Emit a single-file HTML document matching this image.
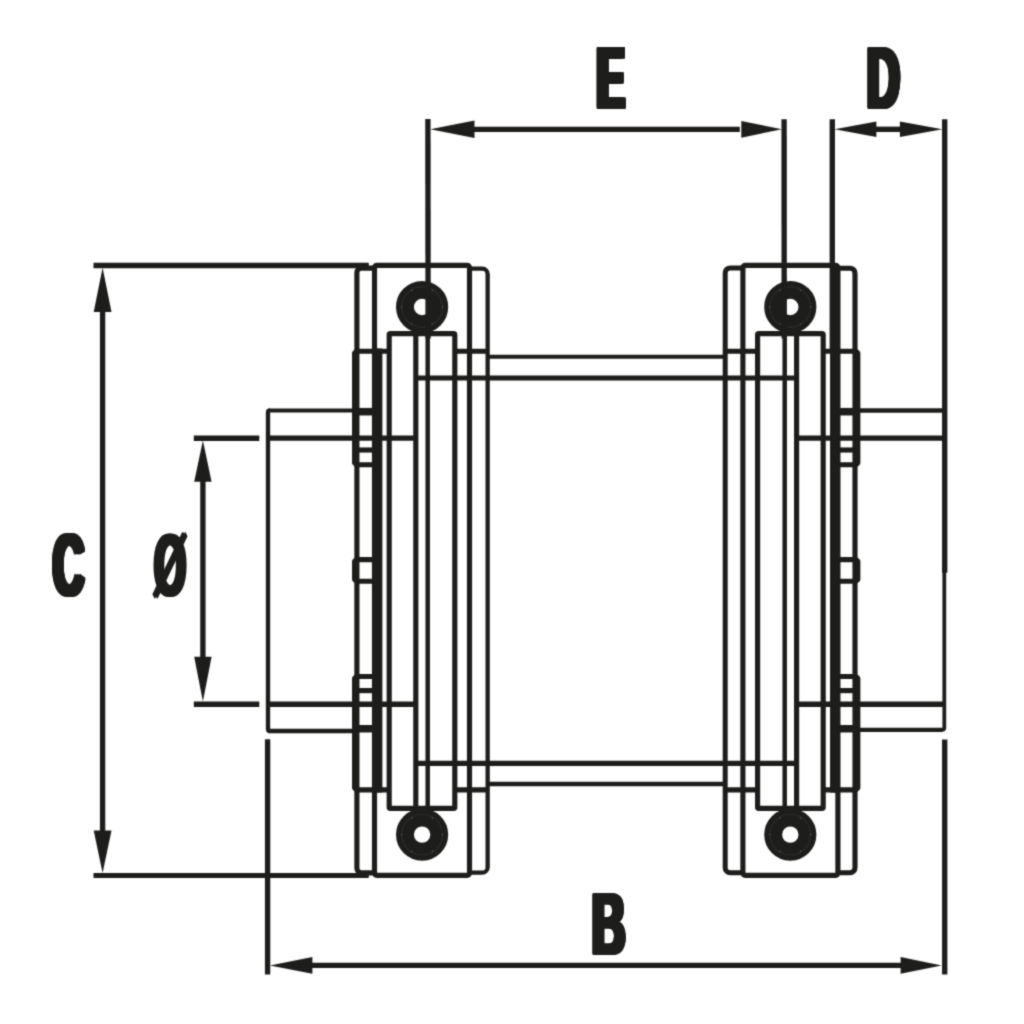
<!DOCTYPE html>
<html lang="en">
<head>
<meta charset="utf-8">
<title>Dimension drawing</title>
<style>
html,body{margin:0;padding:0;background:#fff;}
body{width:1024px;height:1024px;position:relative;overflow:hidden;font-family:"Liberation Sans",sans-serif;}
svg{position:absolute;left:0;top:0;display:block;}
#sheet{position:absolute;left:0;top:0;width:1024px;height:1024px;background:#fff;filter:url(#soft);}
.lbl{position:absolute;font-family:"Liberation Sans",sans-serif;font-weight:700;color:#1d1d1b;line-height:1;white-space:nowrap;transform-origin:0 0;margin:0;padding:0;}
.lbl.dia{font-family:"DejaVu Sans","Liberation Sans",sans-serif;}
</style>
</head>
<body>
<div id="sheet">
<svg width="1024" height="1024" viewBox="0 0 1024 1024">
<defs><filter id="soft" x="0" y="0" width="100%" height="100%" color-interpolation-filters="sRGB"><feConvolveMatrix order="3" kernelMatrix="0.0324 0.1152 0.0324 0.1152 0.4096 0.1152 0.0324 0.1152 0.0324" divisor="1" edgeMode="duplicate" preserveAlpha="false"/></filter></defs>
<g fill="none" stroke="#1d1d1b" stroke-linecap="butt">
<path d="M374.50,268.1 H361.40 A4.5,4.5 0 0 0 356.90,272.6 V868.3 A4.5,4.5 0 0 0 361.40,872.8 H374.50" stroke-width="5.15" />
<path d="M469.50,268.7 H482.15 A5.5,5.5 0 0 1 487.65,274.2 V867.2 A5.5,5.5 0 0 1 482.15,872.7 H469.50" stroke-width="4.3" />
<rect x="374.50" y="265.4" width="95.00" height="609.90" rx="2.2" ry="2.2" stroke-width="5.15"/>
<rect x="389.20" y="333.6" width="65.60" height="474.80" rx="1.2" ry="1.2" stroke-width="5.15"/>
<line x1="415.80" y1="333.60" x2="415.80" y2="808.40" stroke-width="5.15"/>
<line x1="427.70" y1="333.60" x2="427.70" y2="808.40" stroke-width="4.5"/>
<line x1="379.80" y1="348.62" x2="379.80" y2="792.38" stroke-width="5.15"/>
<line x1="377.15" y1="348.62" x2="377.15" y2="792.38" stroke-width="3"/>
<line x1="454.80" y1="351.20" x2="487.50" y2="351.20" stroke-width="5.15"/>
<line x1="454.80" y1="789.80" x2="487.50" y2="789.80" stroke-width="5.15"/>
<path d="M389.20,351.2 H356.40 L354.60,353.0 V462.9 L356.40,464.7 H374.50" stroke-width="5.15" stroke-linejoin="round"/>
<path d="M374.50,559.6 H356.40 L354.60,561.4 V579.4000000000001 L356.40,581.2 H374.50" stroke-width="5.15" stroke-linejoin="round"/>
<path d="M374.50,676.5 H356.40 L354.60,678.3 V788.0 L356.40,789.8 H389.20" stroke-width="5.15" stroke-linejoin="round"/>
<line x1="356.90" y1="450.00" x2="374.50" y2="450.00" stroke-width="5.15"/>
<line x1="356.90" y1="690.60" x2="374.50" y2="690.60" stroke-width="5.15"/>
<line x1="356.90" y1="412.90" x2="374.50" y2="412.90" stroke-width="5.15"/>
<line x1="356.90" y1="727.60" x2="374.50" y2="727.60" stroke-width="5.15"/>
<line x1="356.90" y1="438.10" x2="415.80" y2="438.10" stroke-width="5.35"/>
<line x1="356.90" y1="704.20" x2="415.80" y2="704.20" stroke-width="5.35"/>
<line x1="356.90" y1="410.50" x2="374.50" y2="410.50" stroke-width="5.15"/>
<line x1="356.90" y1="729.90" x2="374.50" y2="729.90" stroke-width="5.15"/>
<path d="M837.90,268.2 H850.00 A5.0,5.0 0 0 1 855.00,273.2 V867.7 A5.0,5.0 0 0 1 850.00,872.7 H837.90" stroke-width="5.15" />
<path d="M742.90,267.9 H730.20 A5.0,5.0 0 0 0 725.20,272.9 V867.8 A5.0,5.0 0 0 0 730.20,872.8 H742.90" stroke-width="5.0" />
<rect x="742.90" y="265.4" width="95.00" height="609.90" rx="2.2" ry="2.2" stroke-width="5.15"/>
<rect x="757.60" y="333.6" width="65.60" height="474.80" rx="1.2" ry="1.2" stroke-width="5.15"/>
<line x1="796.60" y1="333.60" x2="796.60" y2="808.40" stroke-width="5.15"/>
<line x1="784.70" y1="333.60" x2="784.70" y2="808.40" stroke-width="4.5"/>
<line x1="832.60" y1="348.62" x2="832.60" y2="792.38" stroke-width="5.15"/>
<line x1="835.25" y1="348.62" x2="835.25" y2="792.38" stroke-width="3"/>
<line x1="757.60" y1="351.20" x2="724.90" y2="351.20" stroke-width="5.15"/>
<line x1="757.60" y1="789.80" x2="724.90" y2="789.80" stroke-width="5.15"/>
<path d="M823.20,351.2 H856.00 L857.80,353.0 V462.9 L856.00,464.7 H837.90" stroke-width="5.15" stroke-linejoin="round"/>
<path d="M837.90,559.6 H856.00 L857.80,561.4 V579.4000000000001 L856.00,581.2 H837.90" stroke-width="5.15" stroke-linejoin="round"/>
<path d="M837.90,676.5 H856.00 L857.80,678.3 V788.0 L856.00,789.8 H823.20" stroke-width="5.15" stroke-linejoin="round"/>
<line x1="855.50" y1="450.00" x2="837.90" y2="450.00" stroke-width="5.15"/>
<line x1="855.50" y1="690.60" x2="837.90" y2="690.60" stroke-width="5.15"/>
<line x1="855.50" y1="412.90" x2="837.90" y2="412.90" stroke-width="5.15"/>
<line x1="855.50" y1="727.60" x2="837.90" y2="727.60" stroke-width="5.15"/>
<line x1="855.50" y1="438.10" x2="796.60" y2="438.10" stroke-width="5.35"/>
<line x1="855.50" y1="704.20" x2="796.60" y2="704.20" stroke-width="5.35"/>
<line x1="855.50" y1="410.50" x2="837.90" y2="410.50" stroke-width="5.15"/>
<line x1="855.50" y1="729.90" x2="837.90" y2="729.90" stroke-width="5.15"/>
<line x1="487.50" y1="356.70" x2="724.90" y2="356.70" stroke-width="3.9"/>
<line x1="487.50" y1="784.10" x2="724.90" y2="784.10" stroke-width="4.5"/>
<line x1="415.80" y1="378.00" x2="796.60" y2="378.00" stroke-width="4.95"/>
<line x1="415.80" y1="763.40" x2="796.60" y2="763.40" stroke-width="5.1"/>
<line x1="269.00" y1="410.50" x2="356.90" y2="410.50" stroke-width="4.1"/>
<line x1="269.00" y1="731.00" x2="356.90" y2="731.00" stroke-width="4.4"/>
<path d="M270.0,410.5 Q268.0,410.5 268.0,412.5 V729.0 Q268.0,731.0 270.0,731.0" stroke-width="4.35" />
<line x1="268.00" y1="438.10" x2="356.90" y2="438.10" stroke-width="5.35"/>
<line x1="268.00" y1="704.20" x2="356.90" y2="704.20" stroke-width="5.35"/>
<line x1="855.50" y1="410.50" x2="944.70" y2="410.50" stroke-width="4.35"/>
<path d="M941.8,729.9 Q944.3,729.9 944.3,727.4 V571" stroke-width="3.8" />
<line x1="855.50" y1="729.90" x2="942.30" y2="729.90" stroke-width="4.35"/>
<line x1="855.50" y1="438.10" x2="944.70" y2="438.10" stroke-width="5.35"/>
<line x1="855.50" y1="704.20" x2="944.70" y2="704.20" stroke-width="5.35"/>
<circle cx="422.1" cy="307.0" r="17.15" stroke-width="17.9"/>
<circle cx="422.1" cy="307.0" r="20.4" stroke="#fff" stroke-opacity="0.07" stroke-width="1.1"/>
<circle cx="442.70" cy="307.00" r="0.7" fill="#fff" fill-opacity="0.28" stroke="none"/>
<circle cx="432.40" cy="323.59" r="0.7" fill="#fff" fill-opacity="0.28" stroke="none"/>
<circle cx="411.80" cy="323.59" r="0.7" fill="#fff" fill-opacity="0.28" stroke="none"/>
<circle cx="401.50" cy="307.00" r="0.7" fill="#fff" fill-opacity="0.28" stroke="none"/>
<circle cx="411.80" cy="290.41" r="0.7" fill="#fff" fill-opacity="0.28" stroke="none"/>
<circle cx="432.40" cy="290.41" r="0.7" fill="#fff" fill-opacity="0.28" stroke="none"/>
<circle cx="790.3" cy="307.0" r="17.15" stroke-width="17.9"/>
<circle cx="790.3" cy="307.0" r="20.4" stroke="#fff" stroke-opacity="0.07" stroke-width="1.1"/>
<circle cx="810.90" cy="307.00" r="0.7" fill="#fff" fill-opacity="0.28" stroke="none"/>
<circle cx="800.60" cy="323.59" r="0.7" fill="#fff" fill-opacity="0.28" stroke="none"/>
<circle cx="780.00" cy="323.59" r="0.7" fill="#fff" fill-opacity="0.28" stroke="none"/>
<circle cx="769.70" cy="307.00" r="0.7" fill="#fff" fill-opacity="0.28" stroke="none"/>
<circle cx="780.00" cy="290.41" r="0.7" fill="#fff" fill-opacity="0.28" stroke="none"/>
<circle cx="800.60" cy="290.41" r="0.7" fill="#fff" fill-opacity="0.28" stroke="none"/>
<circle cx="422.1" cy="834.6" r="17.15" stroke-width="17.9"/>
<circle cx="422.1" cy="834.6" r="20.4" stroke="#fff" stroke-opacity="0.07" stroke-width="1.1"/>
<circle cx="442.70" cy="834.60" r="0.7" fill="#fff" fill-opacity="0.28" stroke="none"/>
<circle cx="432.40" cy="851.19" r="0.7" fill="#fff" fill-opacity="0.28" stroke="none"/>
<circle cx="411.80" cy="851.19" r="0.7" fill="#fff" fill-opacity="0.28" stroke="none"/>
<circle cx="401.50" cy="834.60" r="0.7" fill="#fff" fill-opacity="0.28" stroke="none"/>
<circle cx="411.80" cy="818.01" r="0.7" fill="#fff" fill-opacity="0.28" stroke="none"/>
<circle cx="432.40" cy="818.01" r="0.7" fill="#fff" fill-opacity="0.28" stroke="none"/>
<circle cx="790.3" cy="834.6" r="17.15" stroke-width="17.9"/>
<circle cx="790.3" cy="834.6" r="20.4" stroke="#fff" stroke-opacity="0.07" stroke-width="1.1"/>
<circle cx="810.90" cy="834.60" r="0.7" fill="#fff" fill-opacity="0.28" stroke="none"/>
<circle cx="800.60" cy="851.19" r="0.7" fill="#fff" fill-opacity="0.28" stroke="none"/>
<circle cx="780.00" cy="851.19" r="0.7" fill="#fff" fill-opacity="0.28" stroke="none"/>
<circle cx="769.70" cy="834.60" r="0.7" fill="#fff" fill-opacity="0.28" stroke="none"/>
<circle cx="780.00" cy="818.01" r="0.7" fill="#fff" fill-opacity="0.28" stroke="none"/>
<circle cx="800.60" cy="818.01" r="0.7" fill="#fff" fill-opacity="0.28" stroke="none"/>
<line x1="427.90" y1="119.10" x2="428.10" y2="338.60" stroke-width="5.35"/>
<line x1="784.10" y1="119.20" x2="784.20" y2="338.60" stroke-width="5.35"/>
<line x1="470.00" y1="129.30" x2="739.80" y2="129.30" stroke-width="5.35"/>
<polygon points="430.30,129.30 474.50,120.60 474.50,138.00" fill="#1d1d1b" stroke="none"/>
<polygon points="781.80,129.30 741.30,120.90 741.30,137.70" fill="#1d1d1b" stroke="none"/>
<line x1="832.30" y1="119.20" x2="832.30" y2="351.20" stroke-width="5.35"/>
<line x1="834.90" y1="265.40" x2="834.90" y2="351.20" stroke-width="3"/>
<line x1="944.70" y1="119.20" x2="944.70" y2="572.80" stroke-width="5.35"/>
<line x1="872.00" y1="129.30" x2="903.00" y2="129.30" stroke-width="5.35"/>
<polygon points="834.60,129.30 876.40,121.50 876.40,137.10" fill="#1d1d1b" stroke="none"/>
<polygon points="942.30,129.30 899.90,121.50 899.90,137.10" fill="#1d1d1b" stroke="none"/>
<line x1="93.50" y1="265.50" x2="368.80" y2="265.50" stroke-width="5.35"/>
<line x1="93.50" y1="875.50" x2="368.80" y2="875.50" stroke-width="5.1"/>
<line x1="102.60" y1="305.00" x2="102.60" y2="835.00" stroke-width="5.35"/>
<polygon points="102.60,267.70 93.70,312.10 111.50,312.10" fill="#1d1d1b" stroke="none"/>
<polygon points="102.60,873.10 93.70,830.60 111.50,830.60" fill="#1d1d1b" stroke="none"/>
<line x1="193.80" y1="438.20" x2="259.30" y2="438.20" stroke-width="5.35"/>
<line x1="193.80" y1="704.20" x2="259.30" y2="704.20" stroke-width="5.35"/>
<line x1="202.90" y1="475.00" x2="202.90" y2="662.00" stroke-width="5.35"/>
<polygon points="202.90,440.50 194.20,481.80 211.60,481.80" fill="#1d1d1b" stroke="none"/>
<polygon points="202.90,701.60 194.20,656.70 211.60,656.70" fill="#1d1d1b" stroke="none"/>
<line x1="267.60" y1="739.30" x2="267.60" y2="974.50" stroke-width="5.35"/>
<line x1="944.70" y1="739.50" x2="944.70" y2="974.50" stroke-width="5.35"/>
<line x1="308.00" y1="965.40" x2="905.00" y2="965.40" stroke-width="5.35"/>
<polygon points="269.90,965.40 312.40,957.00 312.40,973.80" fill="#1d1d1b" stroke="none"/>
<polygon points="941.60,965.40 900.60,957.00 900.60,973.80" fill="#1d1d1b" stroke="none"/>
</g>
</svg>
<div class="lbl" style="left:597.05px;top:34.59px;font-size:86.3px;transform:scaleX(0.4752);text-shadow:6.10px 0.96px 0 #1d1d1b,-6.10px 0.96px 0 #1d1d1b,6.10px -0.96px 0 #1d1d1b,-6.10px -0.96px 0 #1d1d1b,6.10px 0.00px 0 #1d1d1b,-6.10px 0.00px 0 #1d1d1b,0.00px 0.96px 0 #1d1d1b,0.00px -0.96px 0 #1d1d1b,3.05px 0.96px 0 #1d1d1b,-3.05px 0.96px 0 #1d1d1b,3.05px -0.96px 0 #1d1d1b,-3.05px -0.96px 0 #1d1d1b">E</div>
<div class="lbl" style="left:866.74px;top:34.59px;font-size:86.3px;transform:scaleX(0.5263);text-shadow:4.90px 0.96px 0 #1d1d1b,-4.90px 0.96px 0 #1d1d1b,4.90px -0.96px 0 #1d1d1b,-4.90px -0.96px 0 #1d1d1b,4.90px 0.00px 0 #1d1d1b,-4.90px 0.00px 0 #1d1d1b,0.00px 0.96px 0 #1d1d1b,0.00px -0.96px 0 #1d1d1b,2.45px 0.96px 0 #1d1d1b,-2.45px 0.96px 0 #1d1d1b,2.45px -0.96px 0 #1d1d1b,-2.45px -0.96px 0 #1d1d1b">D</div>
<div class="lbl" style="left:52.72px;top:522.19px;font-size:86.3px;transform:scaleX(0.4953);text-shadow:5.60px 0.96px 0 #1d1d1b,-5.60px 0.96px 0 #1d1d1b,5.60px -0.96px 0 #1d1d1b,-5.60px -0.96px 0 #1d1d1b,5.60px 0.00px 0 #1d1d1b,-5.60px 0.00px 0 #1d1d1b,0.00px 0.96px 0 #1d1d1b,0.00px -0.96px 0 #1d1d1b,2.80px 0.96px 0 #1d1d1b,-2.80px 0.96px 0 #1d1d1b,2.80px -0.96px 0 #1d1d1b,-2.80px -0.96px 0 #1d1d1b">C</div>
<div class="lbl dia" style="left:153.00px;top:525.94px;font-size:83.4px;transform:scaleX(0.4812);text-shadow:3.32px 0 0 #1d1d1b,-3.32px 0 0 #1d1d1b">Ø</div>
<div class="lbl" style="left:592.14px;top:880.59px;font-size:86.3px;transform:scaleX(0.5346);text-shadow:4.73px 0.96px 0 #1d1d1b,-4.73px 0.96px 0 #1d1d1b,4.73px -0.96px 0 #1d1d1b,-4.73px -0.96px 0 #1d1d1b,4.73px 0.00px 0 #1d1d1b,-4.73px 0.00px 0 #1d1d1b,0.00px 0.96px 0 #1d1d1b,0.00px -0.96px 0 #1d1d1b,2.36px 0.96px 0 #1d1d1b,-2.36px 0.96px 0 #1d1d1b,2.36px -0.96px 0 #1d1d1b,-2.36px -0.96px 0 #1d1d1b">B</div>
</div>
</body>
</html>
